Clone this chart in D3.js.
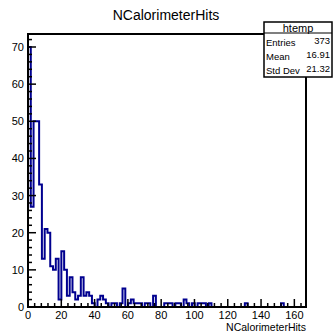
<!DOCTYPE html>
<html>
<head>
<meta charset="utf-8">
<script src="https://cdn.jsdelivr.net/npm/d3@7"></script>
<style>
  body { margin: 0; background: #fff; }
  text { font-family: "Liberation Sans", Arial, sans-serif; fill: #000; }
</style>
</head>
<body>
<div id="graph1"></div>
<script>

// histogram bins: 100 bins over [0, 167]
var xMin = 0;
var xMax = 167;
var counts = [70, 27, 50, 50, 33, 13, 21, 20, 11, 10,
              13, 2, 15, 10, 3, 8, 4, 2, 3, 8,
              3, 4, 3, 1, 0, 2, 3, 2, 1, 0,
              1, 1, 0, 1, 5, 0, 1, 2, 1, 1,
              1, 0, 1, 1, 0, 3, 0, 0, 0, 1,
              1, 1, 0, 1, 1, 0, 2, 1, 0, 1,
              0, 1, 1, 1, 0, 1, 0, 0, 0, 0,
              0, 0, 0, 0, 0, 0, 0, 0, 1, 0,
              0, 0, 0, 0, 0, 0, 0, 0, 0, 0,
              0, 1, 0, 0, 0, 0, 0, 0, 0, 0];
var xTicks = [0, 20, 40, 60, 80, 100, 120, 140, 160];
var yTicks = [0, 10, 20, 30, 40, 50, 60, 70];
var statNames = ["Entries", "Mean", "Std Dev"];
var statValues = ["373", "16.91", "21.32"];
var histName = "htemp";
var title = "NCalorimeterHits";

var width = 333, height = 334;
var margin = {top: 34, right: 27, bottom: 27, left: 28};

var svg = d3.select("#graph1")
  .append("svg")
    .attr("width", width)
    .attr("height", height);

var x = d3.scaleLinear()
  .domain([xMin, xMax])
  .range([margin.left, width - margin.right]);

var y = d3.scaleLinear()
  .domain([0, d3.max(counts) * 1.05])
  .range([height - margin.bottom, margin.top]);

var binW = (xMax - xMin) / counts.length;

// step outline like ROOT "HIST"
var pts = [[xMin, 0]];
counts.forEach(function(c, i) {
  pts.push([xMin + i * binW, c]);
  pts.push([xMin + (i + 1) * binW, c]);
});
pts.push([xMax, 0]);

svg.append("path")
  .datum(pts)
  .attr("fill", "none")
  .attr("stroke", "#00008f")
  .attr("stroke-width", 2)
  .attr("stroke-linejoin", "miter")
  .attr("d", d3.line()
    .x(function(d) { return x(d[0]) })
    .y(function(d) { return y(d[1]) })
  );

// ticks (inside the frame)
var xMinor = d3.range(xMin, xMax + 0.001, 4);
svg.append("g")
  .selectAll("line")
  .data(xMinor)
  .enter().append("line")
    .attr("x1", function(d) { return x(d) })
    .attr("x2", function(d) { return x(d) })
    .attr("y1", y(0))
    .attr("y2", function(d) { return y(0) - (d % 20 == 0 ? 8 : 4) })
    .attr("stroke", "#000")
    .attr("stroke-width", 1.5);

var yMinor = d3.range(0, y.domain()[1], 2);
svg.append("g")
  .selectAll("line")
  .data(yMinor)
  .enter().append("line")
    .attr("x1", x(xMin))
    .attr("x2", function(d) { return x(xMin) + (d % 10 == 0 ? 8 : 4) })
    .attr("y1", function(d) { return y(d) })
    .attr("y2", function(d) { return y(d) })
    .attr("stroke", "#000")
    .attr("stroke-width", 1.5);

// frame
svg.append("rect")
  .attr("x", x(xMin))
  .attr("y", y.range()[1])
  .attr("width", x(xMax) - x(xMin))
  .attr("height", y.range()[0] - y.range()[1])
  .attr("fill", "none")
  .attr("stroke", "#000")
  .attr("stroke-width", 2);

// tick labels
svg.append("g")
  .selectAll("text")
  .data(xTicks)
  .enter().append("text")
    .attr("x", function(d) { return x(d) })
    .attr("y", y(0) + 11.5)
    .attr("text-anchor", "middle")
    .attr("font-size", 11)
    .text(function(d) { return d });

svg.append("g")
  .selectAll("text")
  .data(yTicks)
  .enter().append("text")
    .attr("x", x(xMin) - 4)
    .attr("y", function(d) { return y(d) + 4 })
    .attr("text-anchor", "end")
    .attr("font-size", 11)
    .text(function(d) { return d });

// axis title and hist title
svg.append("text")
  .attr("x", x(xMax))
  .attr("y", 331)
  .attr("text-anchor", "end")
  .attr("font-size", 10.5)
  .text(title);

svg.append("text")
  .attr("x", 166)
  .attr("y", 20)
  .attr("text-anchor", "middle")
  .attr("font-size", 14)
  .text(title);

// stats box
var sb = {x: 264, y: 22, w: 68, h: 55};
svg.append("rect")
  .attr("x", sb.x)
  .attr("y", sb.y)
  .attr("width", sb.w)
  .attr("height", sb.h)
  .attr("fill", "#fff")
  .attr("stroke", "#000")
  .attr("stroke-width", 1.5);
svg.append("line")
  .attr("x1", sb.x).attr("x2", sb.x + sb.w)
  .attr("y1", sb.y + 11).attr("y2", sb.y + 11)
  .attr("stroke", "#000")
  .attr("stroke-width", 1.2);
svg.append("text")
  .attr("x", sb.x + sb.w / 2)
  .attr("y", sb.y + 9.5)
  .attr("text-anchor", "middle")
  .attr("font-size", 11)
  .text(histName);

statNames.forEach(function(n, i) {
  svg.append("text")
    .attr("x", sb.x + 2)
    .attr("y", sb.y + 24 + i * 14)
    .attr("font-size", 9.5)
    .text(n);
  svg.append("text")
    .attr("x", sb.x + sb.w - 2)
    .attr("y", sb.y + 22 + i * 14)
    .attr("text-anchor", "end")
    .attr("font-size", 9.5)
    .text(statValues[i]);
});

</script>
</body>
</html>
